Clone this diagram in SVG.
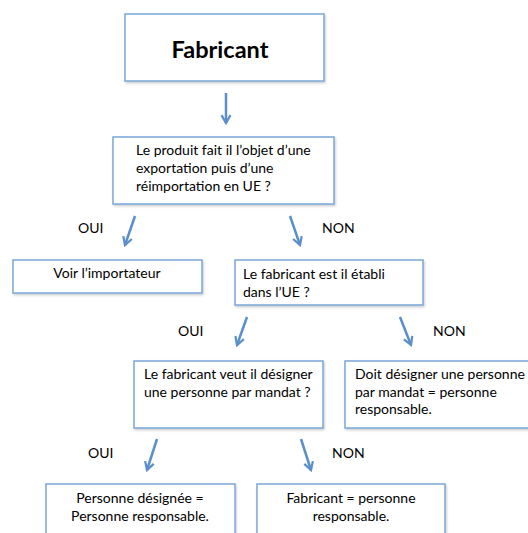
<svg xmlns="http://www.w3.org/2000/svg" width="528" height="533" viewBox="0 0 528 533">
<defs>
<style>
.box{fill:#fff;stroke:#7aa6d8;stroke-width:1.5;}
.t{font-family:Lato,"Liberation Sans",sans-serif;font-size:14px;fill:#000;}
.c{text-anchor:middle;}
.arr{stroke:#5a8fcb;stroke-width:2.5;fill:none;marker-end:url(#ah);}
</style>
<marker id="ah" viewBox="0 0 10 10" refX="8" refY="5" markerWidth="4.5" markerHeight="4.5" orient="auto" markerUnits="strokeWidth">
<path d="M1,1 L8,5 L1,9" fill="none" stroke="#5a8fcb" stroke-width="2"/>
</marker>
<filter id="sh" x="-5%" y="-5%" width="110%" height="120%"><feDropShadow dx="1" dy="1.5" stdDeviation="1" flood-color="#000" flood-opacity="0.2"/></filter>
</defs>
<rect width="528" height="533" fill="#fff"/>
<g id="n-fabricant"><rect class="box" filter="url(#sh)" x="125" y="14" width="199" height="67"/><text class="t c" x="220" y="58" style="font-size:23.5px;font-weight:bold">Fabricant</text></g>
<g id="n-q1"><rect class="box" filter="url(#sh)" x="113" y="137" width="221" height="67"/><text class="t" x="136" y="155">Le produit fait il l’objet d’une</text><text class="t" x="136" y="173">exportation puis d’une</text><text class="t" x="136" y="191">réimportation en UE ?</text></g>
<g id="n-importateur"><rect class="box" filter="url(#sh)" x="13" y="260" width="189" height="33"/><text class="t c" x="107" y="278">Voir l’importateur</text></g>
<g id="n-q2"><rect class="box" filter="url(#sh)" x="235" y="260" width="188" height="45"/><text class="t" x="243" y="279">Le fabricant est il établi</text><text class="t" x="243" y="297">dans l’UE ?</text></g>
<g id="n-q3"><rect class="box" filter="url(#sh)" x="134" y="361" width="189" height="67"/><text class="t" x="144" y="379">Le fabricant veut il désigner</text><text class="t" x="144" y="397">une personne par mandat ?</text></g>
<g id="n-mandat"><rect class="box" filter="url(#sh)" x="345" y="361" width="190" height="67"/><text class="t" x="355" y="379">Doit désigner une personne</text><text class="t" x="355" y="397">par mandat = personne</text><text class="t" x="355" y="414">responsable.</text></g>
<g id="n-designee"><rect class="box" filter="url(#sh)" x="46" y="484" width="189" height="60"/><text class="t c" x="140" y="503">Personne désignée =</text><text class="t c" x="140" y="521">Personne responsable.</text></g>
<g id="n-fabresp"><rect class="box" filter="url(#sh)" x="257" y="484" width="188" height="60"/><text class="t c" x="351" y="503">Fabricant = personne</text><text class="t c" x="351" y="521">responsable.</text></g>
<g id="connectors">
<line class="arr" x1="226" y1="93" x2="226" y2="123"/>
<line class="arr" x1="135" y1="216" x2="125" y2="245"/>
<line class="arr" x1="290" y1="216" x2="300" y2="245"/>
<line class="arr" x1="247" y1="317" x2="237" y2="345"/>
<line class="arr" x1="400" y1="317" x2="411" y2="345"/>
<line class="arr" x1="157" y1="439" x2="147" y2="470"/>
<line class="arr" x1="301" y1="439" x2="311" y2="470"/>
<text class="t" x="78" y="233">OUI</text>
<text class="t" x="322" y="233">NON</text>
<text class="t" x="178" y="336">OUI</text>
<text class="t" x="433" y="336">NON</text>
<text class="t" x="88" y="458">OUI</text>
<text class="t" x="332" y="458">NON</text>
</g>
</svg>
